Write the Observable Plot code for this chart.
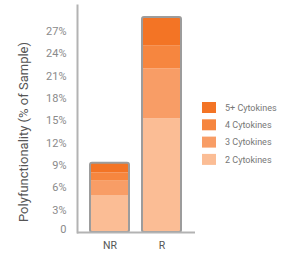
<!DOCTYPE html>
<html>
<head>
<meta charset="utf-8">
<script src="https://cdn.jsdelivr.net/npm/d3@7"></script>
<script src="https://cdn.jsdelivr.net/npm/@observablehq/plot@0.6"></script>
<style>
  html, body { margin: 0; padding: 0; background: #fff; }
  #chart { width: 300px; height: 254px; }
</style>
</head>
<body>
<div id="chart"></div>
<script>
const categories = ["NR", "R"];
const series = ["2 Cytokines", "3 Cytokines", "4 Cytokines", "5+ Cytokines"];
const nrValues = [4.9, 2.0, 1.1, 1.3];
const rValues = [15.3, 6.7, 3.1, 3.8];
const seriesColors = ["#fbbd95", "#f89d66", "#f6863f", "#f37425"];
const yTicks = [0, 3, 6, 9, 12, 15, 18, 21, 24, 27];
const yLabel = "Polyfunctionality (% of Sample)";

const valuesByCat = {NR: nrValues, R: rValues};
const rows = [];
categories.forEach(c => series.forEach((s, i) => rows.push({group: c, series: s, value: valuesByCat[c][i]})));
const totals = categories.map(c => ({group: c, total: d3.sum(valuesByCat[c])}));

const fmt = d => d === 0 ? "0" : d + "%";

const plot = Plot.plot({
  width: 300,
  height: 254,
  marginLeft: 77,
  marginRight: 105,
  marginTop: 5,
  marginBottom: 22,
  style: {fontFamily: "Roboto", fontSize: "10px", background: "#fff"},
  x: {domain: categories, paddingInner: 0.245, paddingOuter: 0.236, axis: null},
  y: {domain: [0, 30.5], axis: null},
  color: {domain: series, range: seriesColors},
  marks: [
    Plot.barY(rows, {x: "group", y: "value", fill: "series"}),
    Plot.barY(totals, {x: "group", y: "total", fill: "none", stroke: "#9c9c9c", strokeWidth: 2, rx: 2}),
    Plot.frame({anchor: "left", stroke: "#b3b3b3", strokeWidth: 2}),
    Plot.ruleY([0], {stroke: "#b3b3b3", strokeWidth: 2}),
    Plot.axisY([0], {tickSize: 0, tickPadding: 11, tickFormat: fmt, fill: "#8a8a8a", dy: -3, label: null, fontSize: 11}),
    Plot.axisY(yTicks.slice(1), {tickSize: 0, tickPadding: 11, tickFormat: fmt, fill: "#8a8a8a", label: null, fontSize: 11}),
    Plot.axisX({tickSize: 0, tickPadding: 9, fill: "#555", label: null, fontSize: 10.5}),
    Plot.text([yLabel], {frameAnchor: "left", textAnchor: "middle", dx: -54, dy: 13, rotate: -90, fill: "#555", fontSize: 13})
  ]
});

document.getElementById("chart").appendChild(plot);

// legend using the plot's color scale
const color = plot.scale("color");
const svg = d3.select(plot);
const legend = svg.append("g").attr("font-family", "Roboto").attr("font-size", 9).attr("text-anchor", "start");
series.slice().reverse().forEach((s, i) => {
  const g = legend.append("g").attr("transform", `translate(202,${102 + i * 17.3})`);
  g.append("rect").attr("width", 14).attr("height", 11).attr("fill", color.apply(s));
  g.append("text").attr("x", 23).attr("y", 5.5).attr("dy", "0.35em").attr("fill", "#777").text(s);
});
</script>
</body>
</html>
